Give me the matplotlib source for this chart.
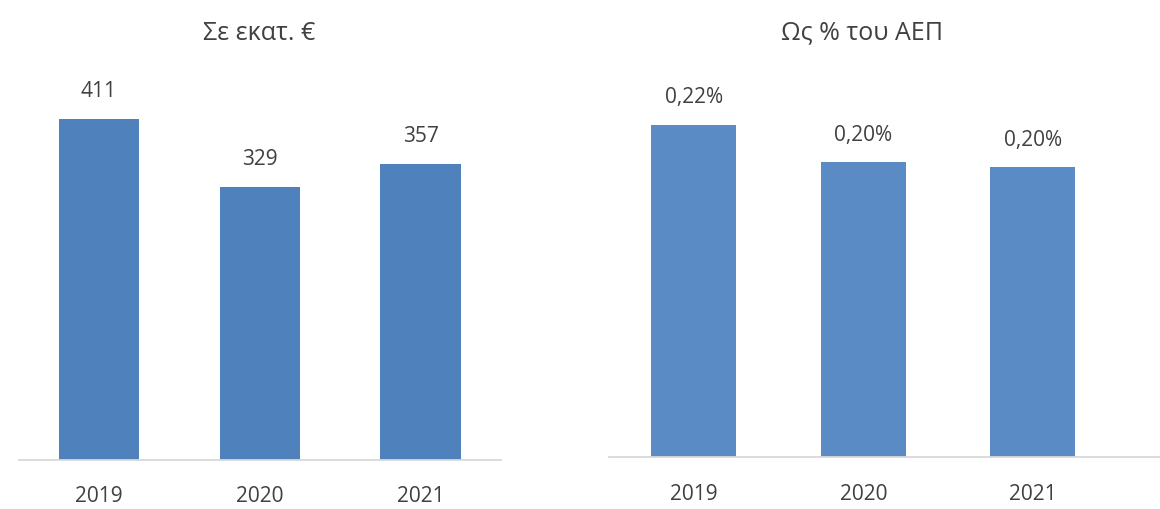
import matplotlib.pyplot as plt

plt.rcParams["font.family"] = ["Open Sans", "DejaVu Sans"]

#---DATA---
years = ["2019", "2020", "2021"]
spend_mn = [411, 329, 357]
spend_gdp = [0.224, 0.1987, 0.1952]

TEXT_COLOR = "#404040"
AXIS_COLOR = "#D9D9D9"


def style_axis(ax):
    for side in ["top", "right", "left"]:
        ax.spines[side].set_visible(False)
    ax.spines["bottom"].set_color(AXIS_COLOR)
    ax.spines["bottom"].set_linewidth(1.3)
    ax.set_yticks([])
    ax.tick_params(axis="x", length=0, pad=19, labelsize=15, labelcolor=TEXT_COLOR)


def label_bars(ax, bars, texts):
    for bar, txt in zip(bars, texts):
        ax.annotate(
            txt,
            xy=(bar.get_x() + bar.get_width() / 2, bar.get_height()),
            xytext=(0, 19.5),
            textcoords="offset points",
            ha="center",
            va="center",
            fontsize=15,
            color=TEXT_COLOR,
        )


fig = plt.figure(figsize=(11.6, 5.09), dpi=100)

# left panel: amount in million euro
ax1 = fig.add_axes([0.016, 0.0963, 0.416, 0.766])
bars1 = ax1.bar(years, spend_mn, width=0.5, color="#4F81BD")
ax1.set_xlim(-0.5, 2.5)
ax1.set_ylim(0, 470)
style_axis(ax1)
label_bars(ax1, bars1, [f"{v}" for v in spend_mn])

# right panel: share of GDP
ax2 = fig.add_axes([0.525, 0.1012, 0.475, 0.7613])
bars2 = ax2.bar(years, spend_gdp, width=0.5, color="#5B8BC4")
ax2.set_xlim(-0.5, 2.75)
ax2.set_ylim(0, 0.2608)
style_axis(ax2)
label_bars(ax2, bars2, [f"{v:.2f}%".replace(".", ",") for v in spend_gdp])

fig.text(259.5 / 1160, 1 - 33 / 509, "Σε εκατ. €", ha="center", va="center",
         fontsize=18, color=TEXT_COLOR)
fig.text(862 / 1160, 1 - 33 / 509, "Ως % του ΑΕΠ", ha="center", va="center",
         fontsize=18, color=TEXT_COLOR)

fig.savefig("out.png", dpi=100)
